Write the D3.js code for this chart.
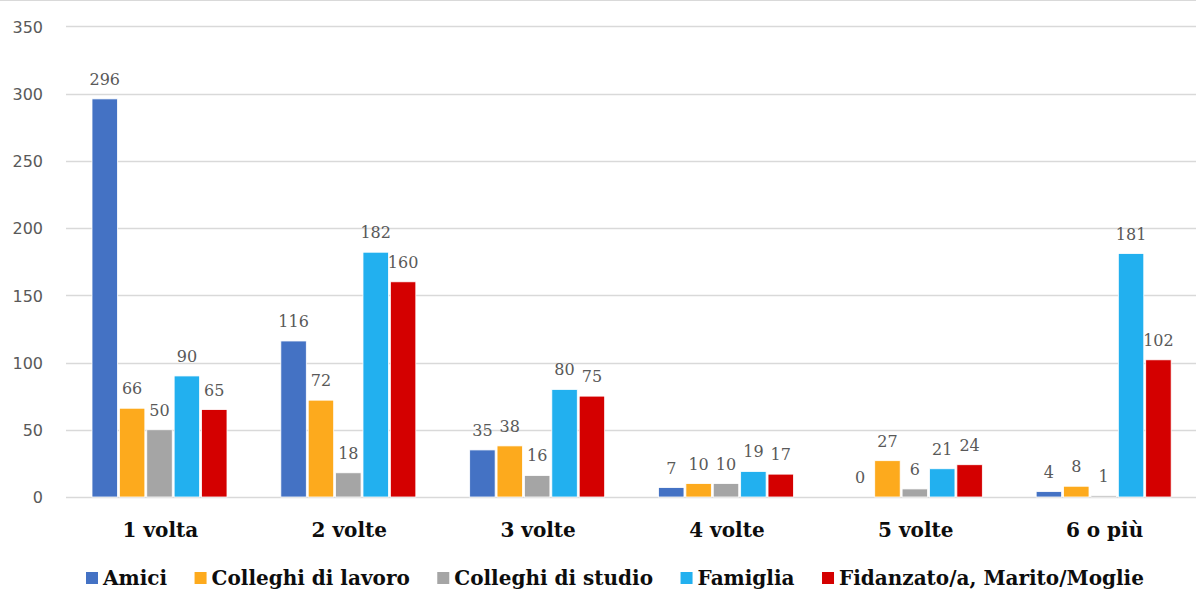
<!DOCTYPE html>
<html>
<head>
<meta charset="utf-8">
<script src="https://cdn.jsdelivr.net/npm/d3@7"></script>
<style>
  html, body { margin: 0; padding: 0; background: #fff; }
  svg { display: block; }
</style>
</head>
<body>
<svg id="chart" width="1196" height="590"></svg>
<script>
// Categories (number of times) and series
const categories = ["1 volta", "2 volte", "3 volte", "4 volte", "5 volte", "6 o più"];
const seriesNames = ["Amici", "Colleghi di lavoro", "Colleghi di studio", "Famiglia", "Fidanzato/a, Marito/Moglie"];
const seriesColors = ["#4472C4", "#FDAA1D", "#A5A5A5", "#22B0EF", "#D40000"];

const amici = [296, 116, 35, 7, 0, 4];
const colleghiLavoro = [66, 72, 38, 10, 27, 8];
const colleghiStudio = [50, 18, 16, 10, 6, 1];
const famiglia = [90, 182, 80, 19, 21, 181];
const partner = [65, 160, 75, 17, 24, 102];

const yTicks = [0, 50, 100, 150, 200, 250, 300, 350];

const seriesValues = [amici, colleghiLavoro, colleghiStudio, famiglia, partner];

const svg = d3.select("#chart");
const W = 1196, H = 590;
const plotLeft = 66, plotRight = 1199, plotTop = 26.25, plotBottom = 497;

const x0 = d3.scaleBand().domain(categories).range([plotLeft, plotRight]).padding(0);
const x1 = d3.scaleBand().domain(seriesNames).range([26, 161]).paddingInner(0.07).paddingOuter(0);
const y = d3.scaleLinear().domain([0, 350]).range([plotBottom, plotTop]);

// top frame line
svg.append("line")
  .attr("x1", 0).attr("x2", W).attr("y1", 0.5).attr("y2", 0.5)
  .attr("stroke", "#d9d9d9").attr("stroke-width", 1);

// gridlines
svg.append("g").selectAll("line").data(yTicks).join("line")
  .attr("x1", plotLeft).attr("x2", W)
  .attr("y1", d => Math.round(y(d)) + 0.5).attr("y2", d => Math.round(y(d)) + 0.5)
  .attr("stroke", "#d9d9d9").attr("stroke-width", 1.5);

// y axis labels
const yAxis = d3.axisLeft(y).tickValues(yTicks).tickSize(0).tickPadding(0);
const yg = svg.append("g").attr("transform", `translate(43,0)`).call(yAxis);
yg.select(".domain").remove();
yg.selectAll("text")
  .attr("font-family", "'DejaVu Sans', sans-serif")
  .attr("font-size", "16px")
  .attr("fill", "#595959")
  .attr("dy", "0.36em");

// bars
const rows = [];
categories.forEach((c, ci) => {
  seriesNames.forEach((s, si) => {
    rows.push({ cat: c, series: s, value: seriesValues[si][ci], color: seriesColors[si] });
  });
});

const groups = svg.append("g");
groups.selectAll("rect").data(rows).join("rect")
  .attr("x", d => x0(d.cat) + x1(d.series))
  .attr("y", d => y(d.value))
  .attr("width", x1.bandwidth())
  .attr("height", d => y(0) - y(d.value))
  .attr("fill", d => d.color)
  .attr("stroke", "#fff")
  .attr("stroke-width", 0.8);

// value labels
svg.append("g").selectAll("text").data(rows).join("text")
  .attr("x", d => x0(d.cat) + x1(d.series) + x1.bandwidth() / 2)
  .attr("y", d => y(d.value) - 14)
  .attr("text-anchor", "middle")
  .attr("font-family", "'DejaVu Serif', serif")
  .attr("font-size", "16px")
  .attr("fill", "#595959")
  .text(d => d.value);

// category labels
const xAxis = d3.axisBottom(x0).tickSize(0).tickPadding(0);
const xg = svg.append("g").attr("transform", `translate(0,${plotBottom})`).call(xAxis);
xg.select(".domain").remove();
xg.selectAll("text")
  .attr("y", 40)
  .attr("dy", 0)
  .attr("font-family", "'DejaVu Serif', serif")
  .attr("font-weight", "bold")
  .attr("font-size", "20px")
  .attr("fill", "#0d0d0d");

// legend
const legend = svg.append("g");
let lx = 86;
seriesNames.forEach((name, i) => {
  legend.append("rect")
    .attr("x", lx).attr("y", 572).attr("width", 12).attr("height", 12)
    .attr("fill", seriesColors[i]);
  const t = legend.append("text")
    .attr("x", lx + 17).attr("y", 585)
    .attr("font-family", "'DejaVu Serif', serif")
    .attr("font-weight", "bold")
    .attr("font-size", "20px")
    .attr("fill", "#0d0d0d")
    .text(name);
  lx = lx + 17 + t.node().getComputedTextLength() + 27.5;
});
</script>
</body>
</html>
